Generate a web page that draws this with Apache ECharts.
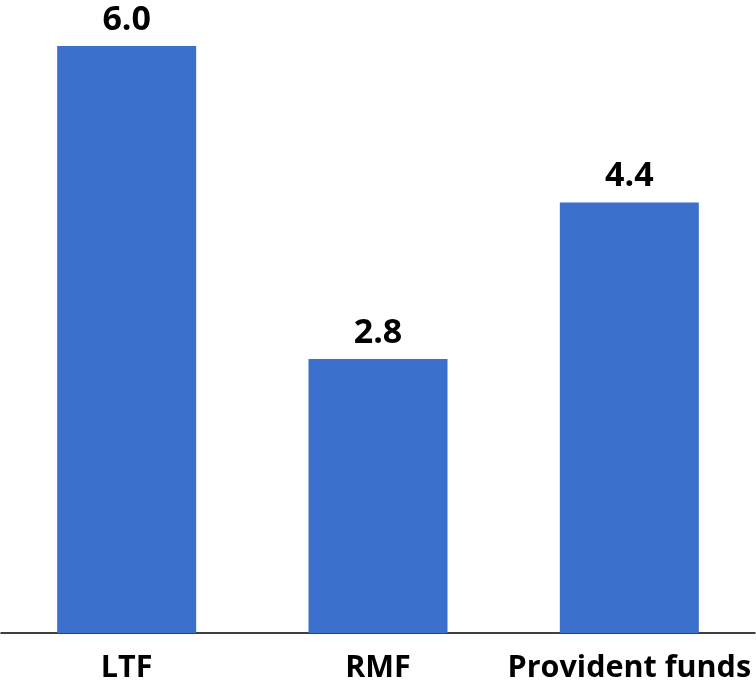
<!DOCTYPE html>
<html>
<head>
<meta charset="utf-8">
<script src="https://cdn.jsdelivr.net/npm/echarts@6/dist/echarts.min.js"></script>
<style>
  html, body { margin: 0; padding: 0; background: #fff; }
  #chart { width: 756px; height: 684px; }
</style>
</head>
<body>
<div id="chart"></div>
<script>
// Fund categories and their values
const categories = ['LTF', 'RMF', 'Provident funds'];
const values = [6.0, 2.8, 4.4];

const FONT = '"Open Sans"';
const chart = echarts.init(document.getElementById('chart'), null, { renderer: 'canvas' });

chart.setOption({
  animation: false,
  grid: { left: 1, right: 1, top: 46, bottom: 51, containLabel: false },
  xAxis: {
    type: 'category',
    data: categories,
    axisLine: { show: true, lineStyle: { color: '#000', width: 1.5 } },
    axisTick: { show: false },
    axisLabel: {
      color: '#000',
      fontFamily: FONT,
      fontWeight: 'bold',
      fontSize: 30.5,
      margin: 20,
      interval: 0
    }
  },
  yAxis: {
    type: 'value',
    min: 0,
    max: 6,
    show: false,
    splitLine: { show: false }
  },
  series: [{
    type: 'bar',
    data: values,
    barWidth: 139,
    itemStyle: { color: '#3B70CD' },
    label: {
      show: true,
      position: 'top',
      distance: 9,
      color: '#000',
      fontFamily: FONT,
      fontWeight: 'bold',
      fontSize: 34,
      formatter: p => p.value.toFixed(1)
    }
  }]
});
</script>
</body>
</html>
